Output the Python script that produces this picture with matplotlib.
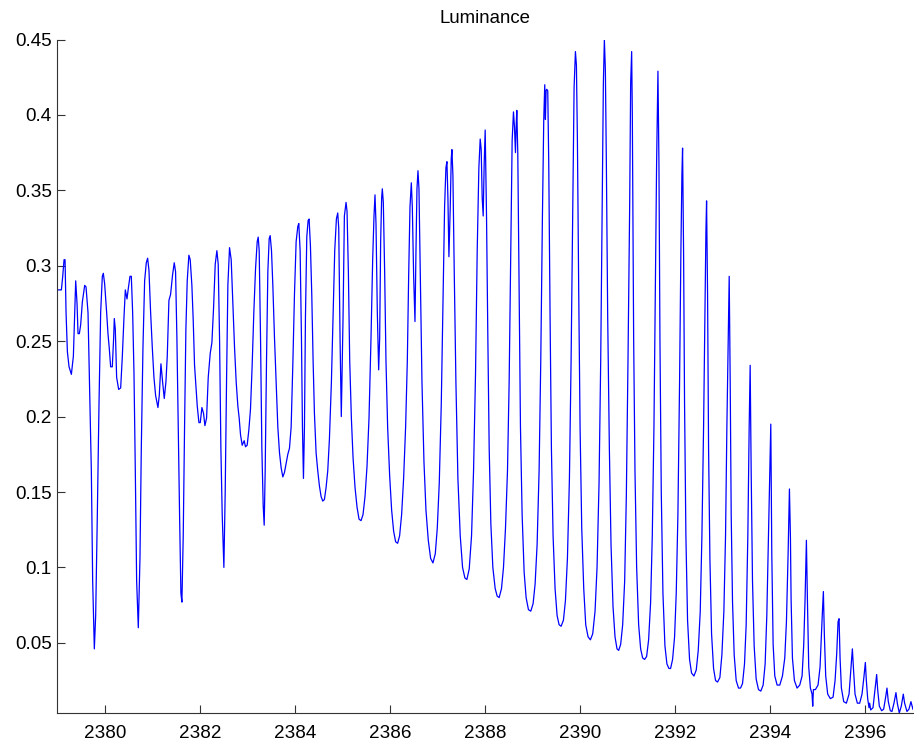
import matplotlib
matplotlib.use('Agg')
import matplotlib.pyplot as plt

plt.rcParams['font.family'] = ['Liberation Sans', 'DejaVu Sans']

# wavelength / luminance samples
wavelength = [
    2379.000, 2379.059, 2379.087, 2379.115, 2379.143, 2379.164, 2379.185, 2379.213, 2379.248, 2379.297,
    2379.339, 2379.367, 2379.388, 2379.416, 2379.437, 2379.465, 2379.493, 2379.528, 2379.577, 2379.605,
    2379.647, 2379.689, 2379.717, 2379.745, 2379.780, 2379.808, 2379.843, 2379.878, 2379.913, 2379.948,
    2379.969, 2379.997, 2380.039, 2380.067, 2380.095, 2380.123, 2380.158, 2380.186, 2380.200, 2380.221,
    2380.249, 2380.292, 2380.334, 2380.369, 2380.404, 2380.432, 2380.467, 2380.495, 2380.530, 2380.558,
    2380.586, 2380.614, 2380.642, 2380.670, 2380.705, 2380.740, 2380.768, 2380.803, 2380.838, 2380.873,
    2380.901, 2380.929, 2380.964, 2380.999, 2381.034, 2381.069, 2381.118, 2381.146, 2381.181, 2381.216,
    2381.251, 2381.286, 2381.314, 2381.349, 2381.384, 2381.426, 2381.461, 2381.489, 2381.517, 2381.545,
    2381.573, 2381.601, 2381.622, 2381.650, 2381.678, 2381.706, 2381.734, 2381.769, 2381.797, 2381.832,
    2381.860, 2381.888,
    2381.945, 2381.980, 2382.008, 2382.043, 2382.078, 2382.106, 2382.141, 2382.176, 2382.218, 2382.253,
    2382.288, 2382.323, 2382.358, 2382.386, 2382.414, 2382.442, 2382.470, 2382.505, 2382.533, 2382.561,
    2382.589, 2382.624, 2382.659, 2382.694, 2382.729, 2382.764, 2382.799, 2382.827, 2382.855, 2382.890,
    2382.932, 2382.960, 2382.995, 2383.030, 2383.065, 2383.100, 2383.135, 2383.171, 2383.206, 2383.227,
    2383.248, 2383.276, 2383.304, 2383.332, 2383.353, 2383.374, 2383.402, 2383.430, 2383.458, 2383.479,
    2383.507, 2383.535, 2383.570, 2383.605, 2383.640, 2383.675, 2383.710, 2383.745, 2383.780, 2383.815,
    2383.850, 2383.885, 2383.920, 2383.955, 2383.990, 2384.025, 2384.060, 2384.081, 2384.109, 2384.137,
    2384.158, 2384.179, 2384.200, 2384.221, 2384.249, 2384.277, 2384.298, 2384.326, 2384.354, 2384.382,
    2384.410, 2384.445, 2384.480, 2384.515, 2384.550, 2384.585, 2384.620, 2384.655, 2384.690, 2384.725,
    2384.767, 2384.802, 2384.837, 2384.872, 2384.900, 2384.921, 2384.949, 2384.975,
    2385.012, 2385.040, 2385.075, 2385.096, 2385.124, 2385.152, 2385.187, 2385.222, 2385.264, 2385.306,
    2385.348, 2385.390, 2385.432, 2385.474, 2385.516, 2385.558, 2385.600, 2385.635, 2385.663, 2385.684,
    2385.705, 2385.733, 2385.761, 2385.782, 2385.803, 2385.824, 2385.838, 2385.859, 2385.887, 2385.915,
    2385.950, 2385.992, 2386.034, 2386.076, 2386.118, 2386.160, 2386.202, 2386.244, 2386.286, 2386.328,
    2386.364, 2386.392, 2386.420, 2386.448, 2386.469, 2386.497, 2386.525, 2386.546, 2386.567, 2386.588,
    2386.609, 2386.637, 2386.672, 2386.714, 2386.756, 2386.805, 2386.854, 2386.903, 2386.952, 2386.994,
    2387.036, 2387.078, 2387.113, 2387.148, 2387.176, 2387.197, 2387.218, 2387.239, 2387.267, 2387.288,
    2387.302, 2387.323, 2387.351, 2387.386, 2387.428, 2387.477, 2387.526, 2387.575, 2387.617, 2387.666,
    2387.715, 2387.757, 2387.799, 2387.834, 2387.869, 2387.897, 2387.918, 2387.939, 2387.960, 2387.981,
    2388.002,
    2388.030, 2388.058, 2388.086, 2388.121, 2388.163, 2388.212, 2388.254, 2388.296, 2388.345, 2388.387,
    2388.429, 2388.471, 2388.506, 2388.541, 2388.569, 2388.597, 2388.618, 2388.639, 2388.653, 2388.667,
    2388.688, 2388.716, 2388.744, 2388.779, 2388.821, 2388.863, 2388.912, 2388.961, 2389.010, 2389.052,
    2389.094, 2389.136, 2389.171, 2389.206, 2389.234, 2389.255, 2389.269, 2389.283, 2389.297, 2389.318,
    2389.339, 2389.367, 2389.395, 2389.430, 2389.472, 2389.515, 2389.557, 2389.599, 2389.648, 2389.690,
    2389.732, 2389.774, 2389.809, 2389.844, 2389.872, 2389.900, 2389.921, 2389.942, 2389.970, 2389.998,
    2390.033, 2390.075, 2390.117, 2390.166, 2390.215, 2390.264, 2390.313, 2390.355, 2390.397, 2390.432,
    2390.460, 2390.488, 2390.509, 2390.530, 2390.551, 2390.579, 2390.614, 2390.649, 2390.691, 2390.733,
    2390.775, 2390.810, 2390.852, 2390.894, 2390.936, 2390.971, 2391.006, 2391.041, 2391.062, 2391.083,
    2391.097,
    2391.125, 2391.153, 2391.188, 2391.230, 2391.272, 2391.314, 2391.356, 2391.398, 2391.440, 2391.482,
    2391.517, 2391.552, 2391.580, 2391.608, 2391.636, 2391.657, 2391.678, 2391.706, 2391.741, 2391.783,
    2391.825, 2391.867, 2391.902, 2391.944, 2391.986, 2392.021, 2392.056, 2392.091, 2392.119, 2392.140,
    2392.154, 2392.175, 2392.196, 2392.224, 2392.259, 2392.301, 2392.343, 2392.393, 2392.442, 2392.484,
    2392.526, 2392.561, 2392.596, 2392.624, 2392.645, 2392.659, 2392.680, 2392.701, 2392.729, 2392.764,
    2392.806, 2392.848, 2392.890, 2392.939, 2392.981, 2393.023, 2393.058, 2393.086, 2393.114, 2393.135,
    2393.156, 2393.177, 2393.205, 2393.240, 2393.282, 2393.331, 2393.373, 2393.415, 2393.457, 2393.492,
    2393.527, 2393.555, 2393.576, 2393.597, 2393.625, 2393.660, 2393.702, 2393.751, 2393.800, 2393.849,
    2393.891, 2393.926, 2393.961, 2393.989, 2394.010,
    2394.031, 2394.059, 2394.094, 2394.143, 2394.199, 2394.255, 2394.304, 2394.339, 2394.374, 2394.402,
    2394.423, 2394.437, 2394.465, 2394.507, 2394.563, 2394.619, 2394.668, 2394.703, 2394.731, 2394.759,
    2394.780, 2394.808, 2394.843, 2394.878, 2394.892, 2394.906, 2394.948, 2395.004, 2395.046, 2395.074,
    2395.095, 2395.116, 2395.137, 2395.165, 2395.207, 2395.263, 2395.320, 2395.362, 2395.397, 2395.425,
    2395.446, 2395.467, 2395.495, 2395.544, 2395.600, 2395.656, 2395.698, 2395.726, 2395.747, 2395.782,
    2395.831, 2395.880, 2395.929, 2395.971, 2395.999, 2396.020, 2396.048, 2396.076, 2396.090, 2396.111,
    2396.160, 2396.202, 2396.237, 2396.258, 2396.293, 2396.342, 2396.384, 2396.426, 2396.454, 2396.482,
    2396.524, 2396.559, 2396.601, 2396.643, 2396.671, 2396.713, 2396.755, 2396.797, 2396.825, 2396.874,
    2396.916, 2396.958, 2397.000,
]

luminance = [
    0.284, 0.284, 0.284, 0.293, 0.304, 0.304, 0.269, 0.243, 0.233, 0.228,
    0.240, 0.269, 0.290, 0.275, 0.255, 0.255, 0.261, 0.276, 0.287, 0.286,
    0.269, 0.208, 0.164, 0.091, 0.046, 0.068, 0.135, 0.208, 0.269, 0.293,
    0.295, 0.288, 0.269, 0.255, 0.245, 0.233, 0.233, 0.252, 0.265, 0.258,
    0.226, 0.218, 0.219, 0.240, 0.266, 0.284, 0.278, 0.285, 0.293, 0.293,
    0.269, 0.229, 0.164, 0.091, 0.060, 0.106, 0.179, 0.246, 0.290, 0.302,
    0.305, 0.297, 0.269, 0.246, 0.226, 0.214, 0.206, 0.214, 0.235, 0.223,
    0.212, 0.223, 0.240, 0.277, 0.281, 0.294, 0.302, 0.296, 0.252, 0.193,
    0.135, 0.083, 0.077, 0.121, 0.193, 0.258, 0.290, 0.307, 0.304, 0.287,
    0.264, 0.234,
    0.207, 0.196, 0.196, 0.206, 0.202, 0.194, 0.199, 0.226, 0.242, 0.249,
    0.272, 0.301, 0.310, 0.301, 0.252, 0.179, 0.135, 0.100, 0.150, 0.223,
    0.287, 0.312, 0.304, 0.275, 0.246, 0.223, 0.207, 0.199, 0.188, 0.181,
    0.184, 0.180, 0.181, 0.191, 0.205, 0.234, 0.269, 0.298, 0.316, 0.319,
    0.310, 0.252, 0.179, 0.141, 0.128, 0.164, 0.237, 0.296, 0.318, 0.320,
    0.310, 0.287, 0.252, 0.223, 0.193, 0.176, 0.166, 0.160, 0.163, 0.169,
    0.175, 0.179, 0.193, 0.234, 0.281, 0.316, 0.326, 0.328, 0.310, 0.252,
    0.193, 0.159, 0.193, 0.266, 0.319, 0.330, 0.331, 0.313, 0.281, 0.237,
    0.202, 0.176, 0.164, 0.154, 0.147, 0.144, 0.145, 0.153, 0.164, 0.185,
    0.223, 0.266, 0.310, 0.331, 0.335, 0.325, 0.252, 0.200,
    0.266, 0.333, 0.342, 0.336, 0.296, 0.237, 0.199, 0.173, 0.153, 0.140,
    0.132, 0.131, 0.135, 0.147, 0.167, 0.199, 0.252, 0.304, 0.333, 0.347,
    0.328, 0.269, 0.231, 0.252, 0.316, 0.345, 0.351, 0.342, 0.296, 0.237,
    0.193, 0.161, 0.138, 0.124, 0.117, 0.116, 0.121, 0.135, 0.159, 0.193,
    0.237, 0.293, 0.339, 0.355, 0.339, 0.293, 0.263, 0.310, 0.351, 0.363,
    0.351, 0.293, 0.223, 0.170, 0.138, 0.118, 0.106, 0.103, 0.109, 0.126,
    0.156, 0.208, 0.275, 0.339, 0.365, 0.369, 0.345, 0.306, 0.339, 0.371,
    0.377, 0.360, 0.296, 0.223, 0.159, 0.121, 0.100, 0.093, 0.092, 0.099,
    0.121, 0.164, 0.229, 0.310, 0.365, 0.384, 0.377, 0.345, 0.333, 0.368,
    0.390,
    0.333, 0.252, 0.179, 0.129, 0.100, 0.086, 0.081, 0.080, 0.086, 0.100,
    0.126, 0.164, 0.223, 0.310, 0.383, 0.402, 0.392, 0.375, 0.392, 0.403,
    0.374, 0.281, 0.193, 0.135, 0.097, 0.080, 0.072, 0.071, 0.076, 0.089,
    0.115, 0.164, 0.237, 0.333, 0.397, 0.420, 0.397, 0.416, 0.417, 0.416,
    0.368, 0.266, 0.179, 0.121, 0.086, 0.068, 0.062, 0.061, 0.065, 0.078,
    0.106, 0.159, 0.237, 0.339, 0.418, 0.442, 0.433, 0.383, 0.281, 0.193,
    0.126, 0.086, 0.062, 0.054, 0.052, 0.056, 0.071, 0.100, 0.156, 0.237,
    0.333, 0.421, 0.450, 0.430, 0.368, 0.266, 0.179, 0.115, 0.074, 0.054,
    0.046, 0.045, 0.049, 0.062, 0.091, 0.147, 0.237, 0.339, 0.421, 0.442,
    0.400,
    0.252, 0.164, 0.100, 0.062, 0.046, 0.040, 0.039, 0.041, 0.052, 0.077,
    0.121, 0.193, 0.281, 0.368, 0.429, 0.368, 0.252, 0.150, 0.083, 0.048,
    0.036, 0.033, 0.033, 0.039, 0.054, 0.083, 0.135, 0.223, 0.310, 0.360,
    0.378, 0.310, 0.208, 0.121, 0.065, 0.039, 0.030, 0.028, 0.032, 0.045,
    0.071, 0.121, 0.193, 0.266, 0.322, 0.343, 0.281, 0.179, 0.106, 0.056,
    0.033, 0.025, 0.024, 0.027, 0.042, 0.071, 0.121, 0.193, 0.252, 0.293,
    0.223, 0.135, 0.077, 0.042, 0.025, 0.020, 0.020, 0.023, 0.036, 0.062,
    0.121, 0.193, 0.234, 0.164, 0.091, 0.048, 0.026, 0.019, 0.018, 0.022,
    0.036, 0.068, 0.121, 0.164, 0.195,
    0.109, 0.049, 0.028, 0.022, 0.022, 0.028, 0.040, 0.064, 0.109, 0.152,
    0.120, 0.079, 0.040, 0.025, 0.020, 0.022, 0.028, 0.049, 0.079, 0.118,
    0.079, 0.034, 0.020, 0.016, 0.008, 0.019, 0.019, 0.022, 0.034, 0.055,
    0.070, 0.084, 0.055, 0.028, 0.016, 0.013, 0.014, 0.025, 0.043, 0.064,
    0.066, 0.040, 0.020, 0.011, 0.010, 0.016, 0.034, 0.046, 0.034, 0.016,
    0.010, 0.010, 0.016, 0.028, 0.037, 0.025, 0.013, 0.007, 0.010, 0.0055,
    0.007, 0.019, 0.029, 0.019, 0.008, 0.005, 0.006, 0.014, 0.020, 0.011,
    0.005, 0.0045, 0.010, 0.017, 0.010, 0.0035, 0.008, 0.016, 0.010, 0.0045,
    0.006, 0.011, 0.006,
]

xticks = [2380, 2382, 2384, 2386, 2388, 2390, 2392, 2394, 2396]
yticks = [0.05, 0.1, 0.15, 0.2, 0.25, 0.3, 0.35, 0.4, 0.45]
ytick_labels = ['0.05', '0.1', '0.15', '0.2', '0.25', '0.3', '0.35', '0.4', '0.45']

fig = plt.figure(figsize=(9.19, 7.44), dpi=100)
ax = fig.add_axes([0.0623, 0.0417, 0.9311, 0.9052])
ax.plot(wavelength, luminance, color=(0, 0, 1), linewidth=0.9)

# tight axes like matlab
ax.set_xlim(min(wavelength), max(wavelength))
ax.set_ylim(min(luminance), max(luminance))
ax.set_xticks(xticks)
ax.set_xticklabels([str(t) for t in xticks])
ax.set_yticks(yticks)
ax.set_yticklabels(ytick_labels)

ax.spines['top'].set_visible(False)
ax.spines['right'].set_visible(False)
for s in ['left', 'bottom']:
    ax.spines[s].set_linewidth(0.8)
    ax.spines[s].set_color('#333333')
ax.tick_params(direction='in', length=5.5, width=0.8, colors='#333333',
               labelcolor='black', labelsize=13.6)
ax.tick_params(axis='x', pad=8.5)
ax.tick_params(axis='y', pad=4)

ax.set_title('Luminance', fontsize=13.4, pad=12)

fig.savefig('out.png', dpi=100)
